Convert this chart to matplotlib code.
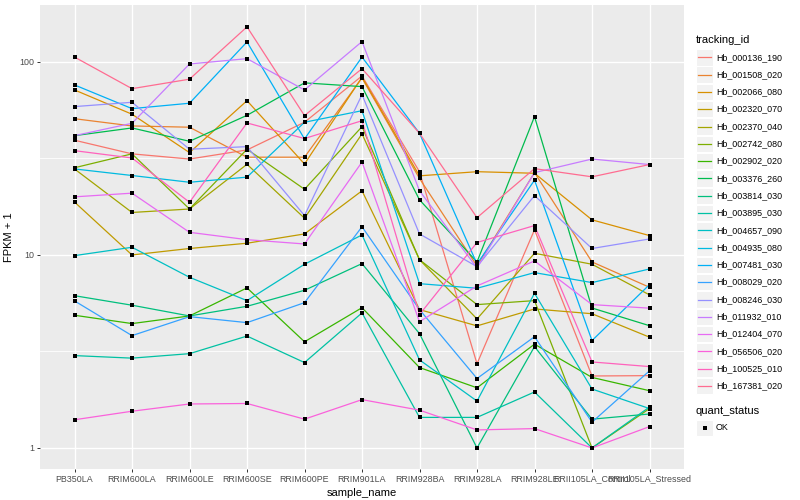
import numpy as np
import matplotlib
matplotlib.use("Agg")
import matplotlib.pyplot as plt
from matplotlib.patches import Rectangle
from matplotlib.lines import Line2D

plt.rcParams['font.family'] = ['Liberation Sans', 'DejaVu Sans']

# ---- data (FPKM + 1) ----
samples = ['PB350LA', 'RRIM600LA', 'RRIM600LE', 'RRIM600SE', 'RRIM600PE', 'RRIM901LA',
           'RRIM928BA', 'RRIM928LA', 'RRIM928LE', 'RRII105LA_Control', 'RRII105LA_Stressed']

hb_000136_190 = [39.3, 33.4, 31.4, 35.0, 48.7, 84.6, 27.0, 2.73, 13.5, 2.36, 2.37]
hb_001508_020 = [50.8, 46.6, 45.9, 32.1, 32.1, 82.6, 24.9, 8.77, 26.7, 9.20, 6.80]
hb_002066_080 = [71.6, 53.6, 33.9, 63.0, 29.6, 83.3, 25.7, 27.0, 26.5, 15.2, 12.6]
hb_002320_070 = [18.8, 10.0, 10.8, 11.5, 12.85, 21.5, 5.21, 4.29, 5.25, 4.96, 3.75]
hb_002370_040 = [27.9, 16.6, 17.3, 29.5, 15.5, 42.4, 9.45, 4.66, 10.2, 8.95, 6.21]
hb_002742_080 = [28.3, 33.4, 17.3, 35.3, 21.9, 46.2, 9.45, 5.53, 5.80, 1.0, 1.60]
hb_002902_020 = [4.87, 4.41, 4.83, 6.75, 3.55, 5.33, 2.61, 2.05, 3.45, 2.32, 1.98]
hb_003376_260 = [41.5, 45.5, 38.8, 52.9, 77.9, 74.5, 19.3, 9.2, 52.1, 5.31, 4.30]
hb_003814_030 = [6.15, 5.49, 4.83, 5.42, 6.56, 9.02, 3.91, 1.0, 3.35, 1.41, 1.50]
hb_003895_030 = [3.01, 2.92, 3.08, 3.80, 2.77, 5.01, 1.44, 1.44, 1.95, 1.0, 1.63]
hb_004657_090 = [9.92, 10.96, 7.66, 5.80, 8.95, 12.7, 2.86, 1.75, 6.33, 2.02, 1.60]
hb_004935_080 = [27.9, 25.8, 23.8, 25.3, 48.7, 55.9, 7.10, 6.72, 8.10, 7.19, 8.46]
hb_007481_030 = [76.0, 57.3, 61.1, 127.0, 39.9, 106.0, 42.7, 8.98, 24.4, 3.60, 7.02]
hb_008029_020 = [5.78, 3.82, 4.79, 4.46, 5.66, 14.0, 5.21, 2.29, 3.77, 1.36, 2.51]
hb_008246_030 = [58.7, 61.8, 35.3, 36.4, 16.0, 67.7, 12.85, 8.70, 20.3, 10.8, 12.1]
hb_011932_010 = [41.5, 48.1, 97.6, 104.0, 71.6, 127.5, 21.5, 8.56, 26.7, 31.4, 29.4]
hb_012404_070 = [20.0, 20.9, 13.1, 12.0, 11.4, 30.3, 4.51, 6.91, 9.31, 5.53, 5.30]
hb_056506_020 = [1.40, 1.55, 1.69, 1.70, 1.41, 1.78, 1.57, 1.24, 1.26, 1.0, 1.29]
hb_100525_010 = [34.7, 31.8, 18.75, 48.3, 40.1, 49.6, 4.91, 11.6, 14.2, 2.79, 2.64]
hb_167381_020 = [106.0, 72.7, 81.4, 152.0, 52.7, 92.3, 42.7, 15.6, 28.0, 25.4, 29.4]

tracking_ids = ['Hb_000136_190', 'Hb_001508_020', 'Hb_002066_080', 'Hb_002320_070',
                'Hb_002370_040', 'Hb_002742_080', 'Hb_002902_020', 'Hb_003376_260',
                'Hb_003814_030', 'Hb_003895_030', 'Hb_004657_090', 'Hb_004935_080',
                'Hb_007481_030', 'Hb_008029_020', 'Hb_008246_030', 'Hb_011932_010',
                'Hb_012404_070', 'Hb_056506_020', 'Hb_100525_010', 'Hb_167381_020']
series = [hb_000136_190, hb_001508_020, hb_002066_080, hb_002320_070, hb_002370_040,
          hb_002742_080, hb_002902_020, hb_003376_260, hb_003814_030, hb_003895_030,
          hb_004657_090, hb_004935_080, hb_007481_030, hb_008029_020, hb_008246_030,
          hb_011932_010, hb_012404_070, hb_056506_020, hb_100525_010, hb_167381_020]

# ggplot hue palette, 20 levels
colors = ['#F8766D', '#EA8331', '#D89000', '#C09B00', '#A3A500', '#7CAE00', '#39B600',
          '#00BB4E', '#00BF7D', '#00C1A3', '#00BFC4', '#00BAE0', '#00B0F6', '#35A2FF',
          '#9590FF', '#C77CFF', '#E76BF3', '#FA62DB', '#FF62BC', '#FF6C91']

W, H = 800, 500
fig = plt.figure(figsize=(8, 5), dpi=100)

def fx(px):
    return px / W

def fy(py):
    return 1 - py / H

# panel: x 40..684, y 5..469 in pixels
ax = fig.add_axes([fx(40), fy(469), fx(684) - fx(40), fy(5) - fy(469)])
ax.set_facecolor('#EBEBEB')
for s in ax.spines.values():
    s.set_visible(False)

x = np.arange(len(samples))
for vals, c in zip(series, colors):
    ax.plot(x, vals, color=c, lw=0.9, zorder=3)
for vals in series:
    ax.plot(x, vals, 's', color='black', ms=2.6, zorder=4, markeredgewidth=0)

ax.set_yscale('log')
ax.set_ylim(10 ** -0.109, 10 ** 2.295)
ax.set_xlim(-0.6, len(samples) - 1 + 0.6)
ax.set_yticks([1, 10, 100])
ax.set_yticklabels(['1', '10', '100'])
ax.set_yticks([10 ** 0.5, 10 ** 1.5], minor=True)
ax.yaxis.set_minor_formatter(plt.NullFormatter())
ax.set_xticks(x)
ax.set_xticklabels(samples)

ax.grid(True, which='major', color='white', lw=1.0, zorder=0)
ax.grid(True, which='minor', axis='y', color='white', lw=0.6, zorder=0)
ax.set_axisbelow(True)
ax.tick_params(which='major', length=2, width=0.7, color='#333333',
               labelsize=6.4, labelcolor='#4D4D4D', pad=2)
ax.tick_params(which='minor', length=0)

ax.set_xlabel('sample_name', fontsize=8, labelpad=3)
ax.set_ylabel('FPKM + 1', fontsize=8, labelpad=4)

# ---- legends (drawn by hand, ggplot style) ----
fig.text(fx(696), fy(40), 'tracking_id', fontsize=8, va='center', ha='left')
step = 17.3
for i, (name, c) in enumerate(zip(tracking_ids, colors)):
    yc = 57.3 + i * step
    fig.add_artist(Rectangle((fx(696), fy(yc + 8.2)), fx(17), 16.4 / H,
                             transform=fig.transFigure, facecolor='#F2F2F2',
                             edgecolor='white', lw=0.8))
    fig.add_artist(Line2D([fx(698), fx(711)], [fy(yc), fy(yc)],
                          transform=fig.transFigure, color=c, lw=0.9))
    fig.text(fx(716), fy(yc), name, fontsize=6.4, va='center', ha='left')

fig.text(fx(696), fy(411), 'quant_status', fontsize=8, va='center', ha='left')
yc = 428
fig.add_artist(Rectangle((fx(696), fy(yc + 8.2)), fx(17), 16.4 / H,
                         transform=fig.transFigure, facecolor='#F2F2F2',
                         edgecolor='white', lw=0.8))
fig.add_artist(Line2D([fx(704.5)], [fy(yc)], transform=fig.transFigure,
                      marker='s', color='black', ms=2.6, markeredgewidth=0))
fig.text(fx(716), fy(yc), 'OK', fontsize=6.4, va='center', ha='left')

fig.savefig('out.png', dpi=100)
